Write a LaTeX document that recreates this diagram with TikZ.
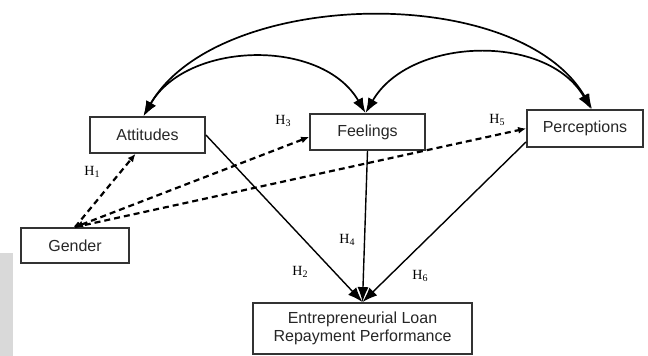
\documentclass[tikz,border=0pt]{standalone}
\usepackage{fontspec}
\setmainfont{Liberation Serif}
\newfontfamily\boxfont{Liberation Sans}
\usetikzlibrary{arrows.meta}
\newcommand{\hyp}[1]{H\raisebox{-2pt}{\fontsize{10}{10}\selectfont #1}}

\begin{document}
\begin{tikzpicture}[x=10pt, y=10pt, >={Latex[length=15pt,width=11pt]},
	var/.style={draw=black!80, line width=1.8pt, minimum width=115pt, minimum height=36pt, inner sep=0pt, font=\boxfont\fontsize{16}{18.5}\selectfont, text=black!85},
	effect/.style={->, line width=1.4pt},
	cov/.style={<->, line width=1.7pt},
	dashlink/.style={->, line width=2.2pt, dash pattern=on 6pt off 4pt, >={Latex[length=8pt,width=7pt]}},
	hlab/.style={font=\fontsize{14}{16}\selectfont}]
	\useasboundingbox (0,0) rectangle (64.8,35.6);
	%\draw [help lines] (0,0) grid (64,35);
	%Margine
	\fill[black!15] (0,0) rectangle (1.3,10.3);
	%Variabili
	\node [var] (att) at (14.75,22.1) {Attitudes};
	\node [var] (feel) at (36.75,22.4) {Feelings};
	\node [var, minimum width=116pt, minimum height=37pt] (perc) at (58.5,22.75) {Perceptions};
	\node [var, minimum width=108pt, minimum height=35pt] (gend) at (7.5,11.05) {Gender};
	\node [var, minimum width=219pt, minimum height=51pt, align=center] (loan) at (36.25,2.75) {Entrepreneurial Loan\\Repayment Performance};
	%Covarianze
	\draw [cov] ([xshift=-4pt]att.north) to [out=60, in=120, looseness=0.84] ([xshift=7pt]perc.north);
	\draw [cov] ([xshift=-4pt]att.north) to [out=60, in=120] ([xshift=-2pt]feel.north);
	\draw [cov] ([xshift=-2pt]feel.north) to [out=60, in=120] ([xshift=6pt]perc.north);
	%Effetti
	\draw [effect] (att.east) -- (loan.north);
	\draw [effect] (feel.south) -- (loan.north);
	\draw [effect] ([yshift=6pt]perc.south west) -- (loan.north);
	%Genere
	\draw [dashlink] (gend.north) -- ([xshift=-12pt]att.south);
	\draw [dashlink, <->] (gend.north) -- ([yshift=-5pt]feel.west);
	\draw [dashlink] (gend.north) -- (perc.west);
	%Ipotesi
	\node [hlab] (h1) at (9.2,18.4) {\hyp{1}};
	\node [hlab] (h2) at (30.0,8.4) {\hyp{2}};
	\node [hlab] (h3) at (28.3,23.5) {\hyp{3}};
	\node [hlab] (h4) at (34.7,11.6) {\hyp{4}};
	\node [hlab] (h5) at (49.7,23.6) {\hyp{5}};
	\node [hlab] (h6) at (42.0,8.0) {\hyp{6}};
\end{tikzpicture}
\end{document}
